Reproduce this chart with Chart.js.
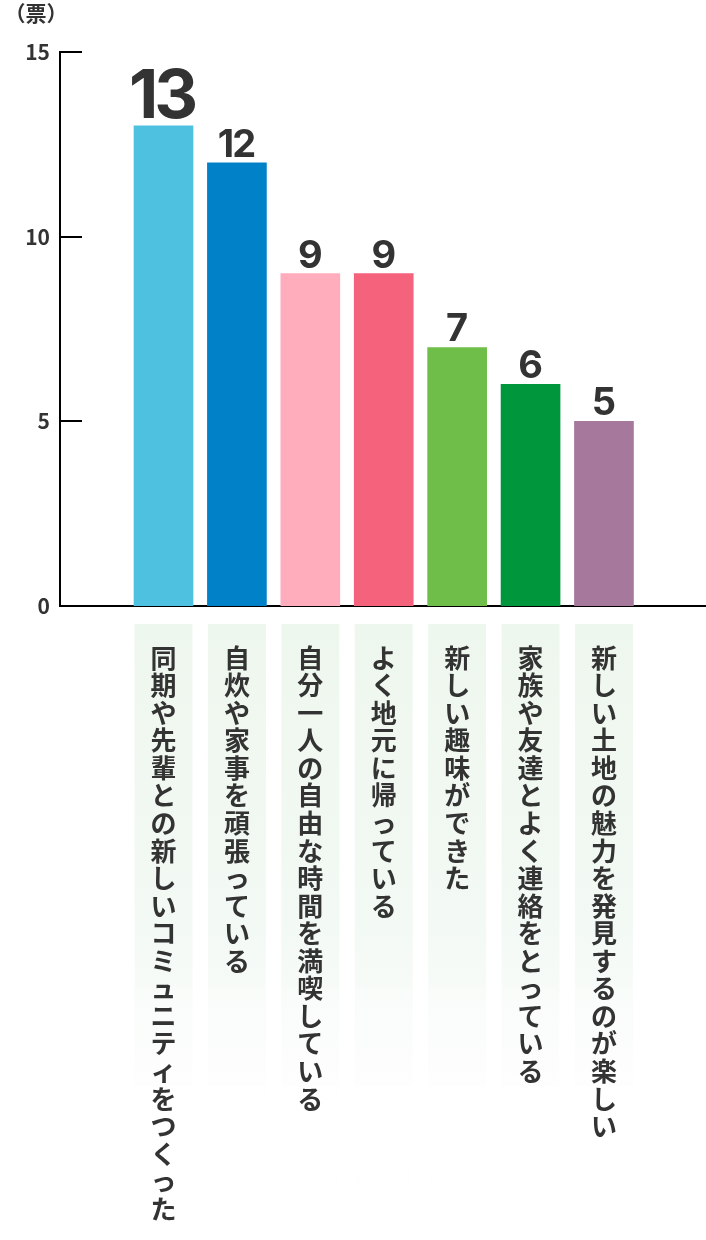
<!DOCTYPE html>
<html lang="ja">
<head>
<meta charset="utf-8">
<script src="https://cdn.jsdelivr.net/npm/chart.js@4.4.1/dist/chart.umd.min.js"></script>
<style>
  html, body { margin: 0; padding: 0; background: #fff; }
  #wrap { width: 706px; height: 1240px; }
</style>
</head>
<body>
<div id="wrap"><canvas id="voteChart" width="706" height="1240"></canvas></div>
<script>
// ----------------------------------------------------
// Data
// ----------------------------------------------------
const categories = [
    '同期や先輩との新しいコミュニティをつくった',
    '自炊や家事を頑張っている',
    '自分一人の自由な時間を満喫している',
    'よく地元に帰っている',
    '新しい趣味ができた',
    '家族や友達とよく連絡をとっている',
    '新しい土地の魅力を発見するのが楽しい'
];
const votes = [13, 12, 9, 9, 7, 6, 5];
const barColors = ['#4FC1E0', '#0081C8', '#FFADBD', '#F5627C', '#6FBE4A', '#00963C', '#A6789B'];
const yTicks = [0, 5, 10, 15];
const unitLabel = '（票）';

const JP_FONT = '"Noto Sans CJK JP", "Noto Sans", sans-serif';
const NUM_FONT = 'Inter, "Noto Sans", sans-serif';
const TEXT_COLOR = '#333333';

// ----------------------------------------------------
// Plugin: label background boxes, inner ticks, values, unit
// ----------------------------------------------------
const decorPlugin = {
    id: 'decor',
    beforeDraw(chart) {
        const ctx = chart.ctx;
        const xScale = chart.scales.x;
        const top = 624, bottom = 1185;
        ctx.save();
        const grad = ctx.createLinearGradient(0, top, 0, bottom);
        grad.addColorStop(0, '#EEF7EE');
        grad.addColorStop(0.55, '#F3F9F4');
        grad.addColorStop(1, 'rgba(255,255,255,0)');
        ctx.fillStyle = grad;
        categories.forEach((c, i) => {
            const cx = xScale.getPixelForValue(i);
            ctx.fillRect(cx - 29, top, 58, bottom - top);
        });
        ctx.restore();
    },
    afterDatasetsDraw(chart) {
        const ctx = chart.ctx;
        const yScale = chart.scales.y;
        const left = chart.chartArea.left;
        ctx.save();
        // short ticks pointing into the plot
        ctx.strokeStyle = '#000';
        ctx.lineWidth = 2;
        yTicks.filter(v => v > 0).forEach(v => {
            const py = Math.round(yScale.getPixelForValue(v));
            ctx.beginPath();
            ctx.moveTo(left, py);
            ctx.lineTo(left + 22, py);
            ctx.stroke();
        });
        // values above the bars
        const meta = chart.getDatasetMeta(0);
        ctx.fillStyle = TEXT_COLOR;
        ctx.textAlign = 'center';
        ctx.textBaseline = 'alphabetic';
        meta.data.forEach((bar, i) => {
            const big = i === 0;
            ctx.font = (big ? '700 68px ' : '700 38px ') + NUM_FONT;
            ctx.letterSpacing = big ? '-4px' : '-2px';
            ctx.fillText(String(votes[i]), bar.x - (big ? 2 : 1), bar.y - (big ? 8 : 6));
        });
        ctx.letterSpacing = '0px';
        // unit label
        ctx.font = '700 21px ' + JP_FONT;
        ctx.textAlign = 'center';
        ctx.textBaseline = 'middle';
        ctx.fillText(unitLabel, 36, 13);
        ctx.restore();
    }
};

// ----------------------------------------------------
// Chart
// ----------------------------------------------------
const ctxVote = document.getElementById('voteChart').getContext('2d');
new Chart(ctxVote, {
    type: 'bar',
    data: {
        datasets: [{
            data: votes.map((v, i) => ({ x: i, y: v })),
            backgroundColor: barColors,
            borderWidth: 0,
            barThickness: 59
        }]
    },
    options: {
        responsive: false,
        animation: false,
        devicePixelRatio: 1,
        layout: { padding: { top: 52, right: 0, bottom: 0, left: 0 } },
        plugins: {
            legend: { display: false },
            tooltip: { enabled: false }
        },
        scales: {
            x: {
                type: 'linear',
                offset: false,
                min: -1.41,
                max: 7.39,
                afterBuildTicks: s => { s.ticks = categories.map((c, i) => ({ value: i })); },
                afterFit: s => { s.height = 634; },
                grid: { display: false, drawTicks: false, offset: false },
                border: { display: true, color: '#000', width: 2 },
                ticks: {
                    autoSkip: false,
                    maxRotation: 0,
                    minRotation: 0,
                    padding: 38,
                    color: TEXT_COLOR,
                    font: { family: JP_FONT, size: 26, weight: 'bold', lineHeight: 1.06 },
                    callback: v => categories[v] ? Array.from(categories[v]) : ''
                }
            },
            y: {
                min: 0,
                max: 15,
                afterBuildTicks: s => { s.ticks = yTicks.map(v => ({ value: v })); },
                afterFit: s => { s.width = 60; },
                grid: { display: false, drawTicks: false },
                border: { display: true, color: '#000', width: 2 },
                ticks: {
                    padding: 10,
                    color: TEXT_COLOR,
                    font: { family: JP_FONT, size: 21, weight: 'bold' }
                }
            }
        }
    },
    plugins: [decorPlugin]
});
</script>
</body>
</html>
